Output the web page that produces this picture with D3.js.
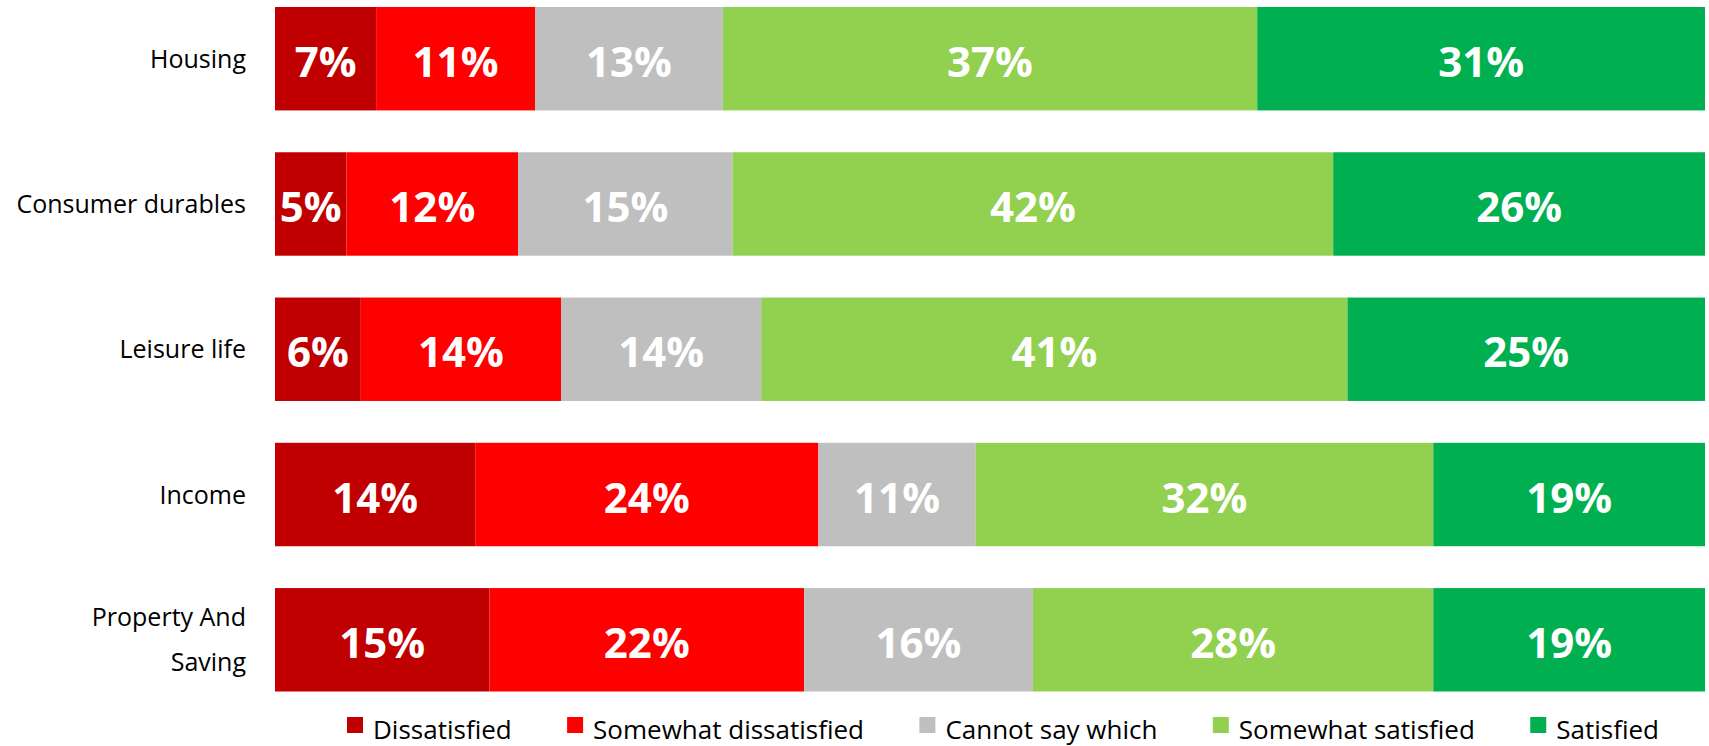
<!DOCTYPE html>
<html>
<head>
<meta charset="utf-8">
<script src="https://cdn.jsdelivr.net/npm/d3@7"></script>
<style>
  html, body { margin: 0; padding: 0; background: #ffffff; }
  svg { display: block; }
</style>
</head>
<body>
<svg id="chart" width="1709" height="746"></svg>
<script>
// ---- data ----
const categories = ["Housing", "Consumer durables", "Leisure life", "Income", "Property And Saving"];
const seriesNames = ["Dissatisfied", "Somewhat dissatisfied", "Cannot say which", "Somewhat satisfied", "Satisfied"];
const dissatisfied         = [7, 5, 6, 14, 15];
const somewhatDissatisfied = [11, 12, 14, 24, 22];
const cannotSay            = [13, 15, 14, 11, 16];
const somewhatSatisfied    = [37, 42, 41, 32, 28];
const satisfied            = [31, 26, 25, 19, 19];
const seriesColors = ["#C00000", "#FF0000", "#BFBFBF", "#92D050", "#00B050"];

// ---- build table ----
const seriesValues = [dissatisfied, somewhatDissatisfied, cannotSay, somewhatSatisfied, satisfied];
const table = categories.map((c, i) => {
  const row = { category: c };
  seriesNames.forEach((s, j) => { row[s] = seriesValues[j][i]; });
  return row;
});

const svg = d3.select("#chart");
const FONT = "'Open Sans', 'Noto Sans', sans-serif";

const x = d3.scaleLinear().domain([0, 1]).range([275, 1705]);
const y = d3.scaleBand().domain(categories).range([7, 691.5]).paddingInner(0.288).paddingOuter(0);
const color = d3.scaleOrdinal().domain(seriesNames).range(seriesColors);

const stack = d3.stack().keys(seriesNames).offset(d3.stackOffsetExpand);
const stacked = stack(table);

const groups = svg.append("g").selectAll("g")
  .data(stacked).join("g")
  .attr("fill", d => color(d.key));

groups.selectAll("rect")
  .data(d => d.map(p => ({ p, key: d.key })))
  .join("rect")
  .attr("x", d => x(d.p[0]))
  .attr("width", d => x(d.p[1]) - x(d.p[0]))
  .attr("y", d => y(d.p.data.category))
  .attr("height", y.bandwidth());

// value labels
groups.selectAll("text")
  .data(d => d.map(p => ({ p, key: d.key })))
  .join("text")
  .attr("x", d => (x(d.p[0]) + x(d.p[1])) / 2)
  .attr("y", d => y(d.p.data.category) + y.bandwidth() / 2 + 18)
  .attr("text-anchor", "middle")
  .attr("font-family", FONT)
  .attr("font-weight", "bold")
  .attr("font-size", 42)
  .attr("fill", "#ffffff")
  .text(d => d.p.data[d.key] + "%");

// category axis labels (wrapped)
const LABEL_SIZE = 25;
const maxLabelWidth = 234;
const labelG = svg.append("g");
categories.forEach(c => {
  const cy = y(c) + y.bandwidth() / 2;
  const t = labelG.append("text")
    .attr("text-anchor", "end")
    .attr("font-family", FONT)
    .attr("font-size", LABEL_SIZE)
    .attr("fill", "#000000");
  const words = c.split(" ");
  let lines = [];
  let line = [];
  const probe = labelG.append("text").attr("font-family", FONT).attr("font-size", LABEL_SIZE);
  words.forEach(w => {
    const test = line.concat([w]).join(" ");
    probe.text(test);
    if (probe.node().getComputedTextLength() > maxLabelWidth && line.length) {
      lines.push(line.join(" "));
      line = [w];
    } else {
      line.push(w);
    }
  });
  lines.push(line.join(" "));
  probe.remove();
  const lh = 45;
  lines.forEach((ln, k) => {
    t.append("tspan")
      .attr("x", 246)
      .attr("y", cy + 9 + (k - (lines.length - 1) / 2) * lh)
      .text(ln);
  });
});

// legend
const legend = svg.append("g");
const items = legend.selectAll("g").data(seriesNames).join("g");
items.append("rect").attr("width", 16).attr("height", 16).attr("y", 717)
  .attr("fill", d => color(d));
items.append("text")
  .attr("x", 26).attr("y", 739)
  .attr("font-family", FONT).attr("font-size", 26).attr("fill", "#000000")
  .text(d => d);
let widths = [];
items.each(function() { widths.push(26 + d3.select(this).select("text").node().getComputedTextLength()); });
const legendStart = 347, legendEnd = 1659;
const gap = (legendEnd - legendStart - d3.sum(widths)) / (widths.length - 1);
let cx = legendStart;
items.each(function(d, i) {
  d3.select(this).attr("transform", `translate(${cx},0)`);
  cx += widths[i] + gap;
});
</script>
</body>
</html>
